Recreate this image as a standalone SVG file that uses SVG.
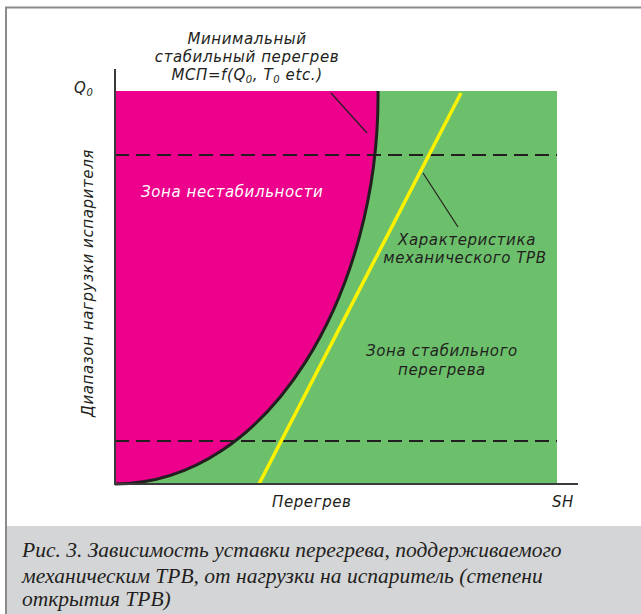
<svg xmlns="http://www.w3.org/2000/svg" width="641" height="614" viewBox="0 0 641 614">
<style>
.lbl{font-family:"DejaVu Sans","Liberation Sans",sans-serif;font-style:italic;font-size:15px;letter-spacing:0.6px;fill:#231f20}
.cap{font-family:"Liberation Serif",serif;font-style:italic;font-size:21.5px;fill:#231f20}
.dash{stroke:#231f20;stroke-width:2;stroke-dasharray:14 7;fill:none}
.lead{stroke:#231f20;stroke-width:1.2;fill:none}
</style>
<rect x="0" y="0" width="641" height="614" fill="#ffffff"/>
<rect x="7" y="526" width="634" height="88" fill="#d4d5d7"/>
<line x1="5" y1="7.5" x2="641" y2="7.5" stroke="#8a8b8d" stroke-width="2"/>
<line x1="6" y1="7" x2="6" y2="614" stroke="#8a8b8d" stroke-width="2"/>
<g id="zones">
<rect x="115" y="91" width="442" height="393" fill="#6cc06c"/>
<path d="M115,91 L378,91 C380,290 270,484 115,484 Z" fill="#ec008c"/>
</g>
<g id="connectors">
<line class="dash" x1="115" y1="155" x2="557" y2="155"/>
<line class="dash" x1="115" y1="441" x2="557" y2="441"/>
<path d="M115,484 C270,484 380,290 378,91" fill="none" stroke="#231f20" stroke-width="3"/>
<line x1="461" y1="93" x2="259" y2="484" stroke="#fff200" stroke-width="3.5"/>
<line class="lead" x1="331" y1="93" x2="367" y2="133"/>
<line class="lead" x1="423" y1="173" x2="458" y2="227"/>
<line x1="115" y1="69" x2="115" y2="485" stroke="#3a3a3a" stroke-width="2"/>
<line x1="114" y1="484" x2="578" y2="484" stroke="#3a3a3a" stroke-width="2"/>
</g>
<g id="label-msp">
<text class="lbl" text-anchor="middle" x="247" y="44">Минимальный</text>
<text class="lbl" text-anchor="middle" x="247" y="62">стабильный перегрев</text>
<text class="lbl" text-anchor="middle" x="247" y="80">МСП=f(Q<tspan font-size="10" dy="3">0</tspan><tspan dy="-3">, T</tspan><tspan font-size="10" dy="3">0</tspan><tspan dy="-3"> etc.)</tspan></text>
</g>
<g id="label-q0"><text class="lbl" x="74" y="93">Q<tspan font-size="10" dy="3">0</tspan></text></g>
<g id="label-y"><text class="lbl" text-anchor="middle" transform="translate(93,283) rotate(-90)">Диапазон нагрузки испарителя</text></g>
<g id="label-unstable"><text class="lbl" x="141" y="197" style="fill:#ffffff">Зона нестабильности</text></g>
<g id="label-trv">
<text class="lbl" text-anchor="middle" x="467" y="245">Характеристика</text>
<text class="lbl" text-anchor="middle" x="465" y="263">механического ТРВ</text>
</g>
<g id="label-stable">
<text class="lbl" text-anchor="middle" x="442" y="356">Зона стабильного</text>
<text class="lbl" text-anchor="middle" x="442" y="375">перегрева</text>
</g>
<g id="label-x">
<text class="lbl" x="272" y="507">Перегрев</text>
<text class="lbl" x="552" y="507">SH</text>
</g>
<g id="caption">
<text class="cap" x="22" y="557">Рис. 3. Зависимость уставки перегрева, поддерживаемого</text>
<text class="cap" x="22" y="583">механическим ТРВ, от нагрузки на испаритель (степени</text>
<text class="cap" x="22" y="606">открытия ТРВ)</text>
</g>
</svg>
